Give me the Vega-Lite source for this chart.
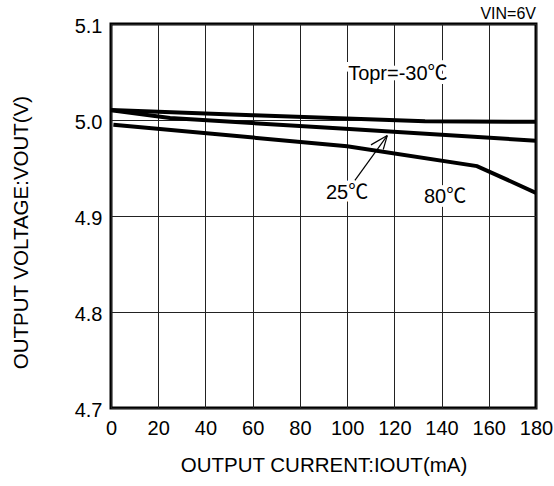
{
  "$schema": "https://vega.github.io/schema/vega-lite/v6.json",
  "width": 425,
  "height": 384,
  "autosize": {"type": "none"},
  "padding": {"left": 111, "top": 24, "right": 18, "bottom": 78},
  "background": "white",
  "config": {
    "font": "Liberation Sans, Arial, Noto Sans CJK JP",
    "view": {"stroke": "black", "strokeWidth": 3},
    "axis": {
      "domain": false,
      "ticks": false,
      "grid": true,
      "gridColor": "#222222",
      "gridWidth": 1,
      "gridOpacity": 1,
      "labelColor": "black",
      "labelFontSize": 20,
      "labelFont": "Liberation Sans",
      "labelOverlap": false,
      "labelFlush": false,
      "titleColor": "black",
      "titleFontSize": 20.5,
      "titleFont": "Liberation Sans",
      "titleFontWeight": "normal"
    }
  },
  "title": {
    "text": "VIN=6V",
    "anchor": "end",
    "frame": "group",
    "fontSize": 16,
    "fontWeight": "normal",
    "font": "Liberation Sans",
    "color": "black",
    "offset": -6
  },
  "datasets": {
    "curves": [
      {"temp": "-30", "current": 0, "voltage": 5.0103},
      {"temp": "-30", "current": 60, "voltage": 5.005},
      {"temp": "-30", "current": 133, "voltage": 4.9986},
      {"temp": "-30", "current": 180, "voltage": 4.9982},
      {"temp": "25", "current": 0, "voltage": 5.0103},
      {"temp": "25", "current": 25, "voltage": 5.0022},
      {"temp": "25", "current": 101, "voltage": 4.9905},
      {"temp": "25", "current": 180, "voltage": 4.9785},
      {"temp": "80", "current": 1, "voltage": 4.9951},
      {"temp": "80", "current": 100, "voltage": 4.9727},
      {"temp": "80", "current": 155, "voltage": 4.952},
      {"temp": "80", "current": 180, "voltage": 4.9241}
    ],
    "labels": [
      {"text": "Topr=-30℃", "current": 121.5, "voltage": 5.0479},
      {"text": "25℃", "current": 100, "voltage": 4.9238},
      {"text": "80℃", "current": 141.5, "voltage": 4.9197}
    ],
    "arrows": [
      {"x1": 103.3, "y1": 4.9372, "x2": 117.0, "y2": 4.9838},
      {"x1": 110.1, "y1": 4.9741, "x2": 117.0, "y2": 4.9838},
      {"x1": 115.3, "y1": 4.9693, "x2": 117.0, "y2": 4.9838}
    ]
  },
  "encoding": {
    "x": {
      "field": "current",
      "type": "quantitative",
      "scale": {"domain": [0, 180], "nice": false, "zero": false},
      "axis": {
        "values": [0, 20, 40, 60, 80, 100, 120, 140, 160, 180],
        "labelPadding": 10,
        "title": "OUTPUT CURRENT:IOUT(mA)",
        "titleX": 212.5,
        "titleY": 57,
        "titleBaseline": "middle",
        "titleAlign": "center",
        "titleAnchor": null
      }
    },
    "y": {
      "field": "voltage",
      "type": "quantitative",
      "scale": {"domain": [4.7, 5.1], "nice": false, "zero": false},
      "axis": {
        "values": [4.7, 4.8, 4.9, 5.0, 5.1],
        "format": ".1f",
        "labelPadding": 9,
        "labelBaseline": "middle",
        "labelOffset": 2,
        "title": "OUTPUT VOLTAGE:VOUT(V)",
        "titleX": -90,
        "titleY": 208,
        "titleAngle": -90,
        "titleBaseline": "middle",
        "titleAlign": "center",
        "titleAnchor": null
      }
    }
  },
  "layer": [
    {
      "data": {"name": "labels"},
      "mark": {"type": "text", "fontSize": 20, "color": "white", "stroke": "white", "strokeWidth": 8, "baseline": "middle", "align": "center"},
      "encoding": {"text": {"field": "text"}}
    },
    {
      "data": {"name": "curves"},
      "mark": {"type": "line", "strokeWidth": 4, "color": "black", "clip": true},
      "encoding": {"detail": {"field": "temp"}}
    },
    {
      "data": {"name": "arrows"},
      "mark": {"type": "rule", "strokeWidth": 1.2, "color": "black"},
      "encoding": {
        "x": {"field": "x1", "type": "quantitative"},
        "y": {"field": "y1", "type": "quantitative"},
        "x2": {"field": "x2"},
        "y2": {"field": "y2"}
      }
    },
    {
      "data": {"name": "labels"},
      "mark": {"type": "text", "fontSize": 20, "color": "black", "baseline": "middle", "align": "center"},
      "encoding": {"text": {"field": "text"}}
    }
  ]
}
